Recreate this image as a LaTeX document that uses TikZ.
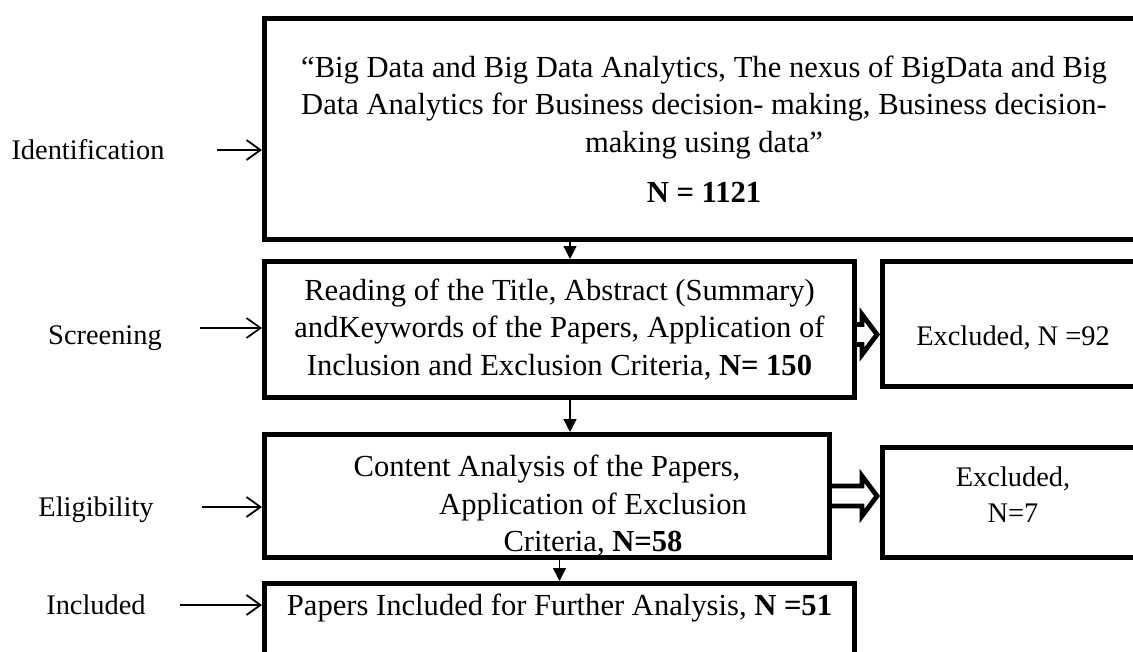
\documentclass[tikz,border=0pt]{standalone}
\usepackage{fontspec}
\setmainfont{Liberation Serif}
\usetikzlibrary{positioning,arrows.meta,calc}
\newcommand\boxfont{\fontsize{15.3}{18.75}\selectfont}
\newcommand\sidefont{\fontsize{14.2}{18}\selectfont}

\begin{document}
\begin{tikzpicture}[
    x=0.5pt, y=-0.5pt,
    stagebox/.style={
      draw,
      line width=2.5pt,
      inner sep=2pt,
      align=center,
      font=\boxfont
    },
    exclbox/.style={
      stagebox,
      font=\sidefont
    },
    sidelabel/.style={font=\sidefont, inner sep=0pt},
    flowarrow/.style={
      -{Triangle[length=6.5pt,width=6.5pt]},
      line width=0.75pt
    },
    sidearrow/.style={
      -{Straight Barb[length=7pt,width=10pt]},
      line width=0.9pt
    },
    hollowarrow/.style={
      line width=2.4pt,
      line join=miter,
      to path={
        let \p1=(\tikztostart), \p2=(\tikztotarget) in
        (\x1,\y1+5pt) -- (\x2-9pt,\y1+5pt) -- (\x2-9pt,\y1+10pt)
        -- (\x2-1.5pt,\y1) -- (\x2-9pt,\y1-10pt) -- (\x2-9pt,\y1-5pt) -- (\x1,\y1-5pt)
      }
    }
  ]
  \useasboundingbox (0,0) rectangle (1133,652);
  \clip (0,0) rectangle (1133,652);

  % main column
  \node[stagebox, anchor=north west, minimum width=439.5pt, minimum height=110.5pt] (ident) at (262,16)
    {“Big Data and Big Data Analytics, The nexus of BigData and Big\\
     Data Analytics for Business decision- making, Business decision-\\
     making using data”\\[6.5pt]
     \textbf{N = 1121}};
  \node[stagebox, below=8.5pt of ident.south west, anchor=north west, minimum width=295pt, minimum height=68pt] (scr)
    {Reading of the Title, Abstract (Summary)\\
     andKeywords of the Papers, Application of\\
     Inclusion and Exclusion Criteria, \textbf{N= 150}};
  \node[stagebox, below=16pt of scr.south west, anchor=north west, minimum width=282.5pt, minimum height=61.5pt, inner ysep=0pt] (elig)
    {\rule{0pt}{20.5pt}Content Analysis of the Papers,\\
     \hspace*{46pt}Application of Exclusion\\
     \hspace*{46pt}Criteria, \textbf{N=58}};
  \node[stagebox, below=10.5pt of elig.south west, anchor=north west, minimum width=295pt, inner ysep=5pt, text depth=40pt] (incl)
    {Papers Included for Further Analysis, \textbf{N =51}};

  % excluded records
  \node[exclbox, right=11.5pt of scr.north east, anchor=north west, minimum width=130.5pt, minimum height=62.5pt] (exc1)
    {\rule{0pt}{24pt}Excluded, N =92};
  \node[exclbox, right=24pt of elig.south east, anchor=south west, minimum width=130.5pt, minimum height=55pt] (exc2)
    {Excluded,\\ \rule[-8pt]{0pt}{8pt}N=7};

  % stage labels
  \node[sidelabel] (idlab) at (88,150) {Identification};
  \node[sidelabel] (scrlab) at (105,338) {Screening};
  \node[sidelabel] (eliglab) at (96,510) {Eligibility};
  \node[sidelabel] (incllab) at (96,605) {Included};
  \coordinate (idtail) at (217,150);
  \coordinate (scrtail) at (200,328);
  \coordinate (eligtail) at (202,507);
  \coordinate (incltail) at (180,605);

  \draw[sidearrow] (idtail) -- (idtail -| ident.west);
  \draw[sidearrow] (scrtail) -- (scrtail -| scr.west);
  \draw[sidearrow] (eligtail) -- (eligtail -| elig.west);
  \draw[sidearrow] (incltail) -- (incltail -| incl.west);

  % downward flow
  \draw[flowarrow] ([xshift=5.25pt]scr.north |- ident.south) -- ([xshift=5.25pt]scr.north);
  \draw[flowarrow] ([xshift=5.25pt]scr.south) -- ([xshift=5.25pt]scr.south |- elig.north);
  \draw[flowarrow] (incl.north |- elig.south) -- (incl.north);

  % exclusions
  \draw[hollowarrow] ([yshift=-2.5pt]scr.east) to (exc1.west);
  \draw[hollowarrow] (elig.east) to (exc2.west);
\end{tikzpicture}
\end{document}
